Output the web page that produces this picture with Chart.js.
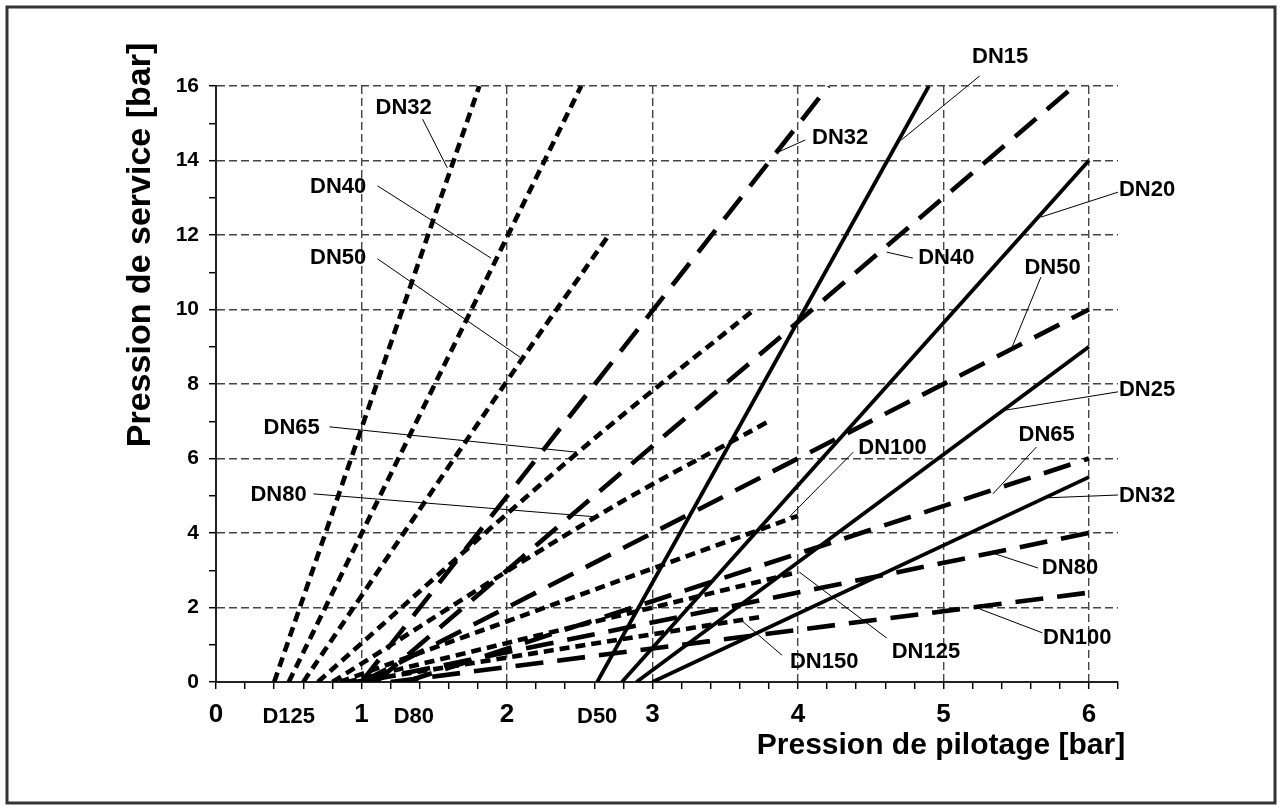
<!DOCTYPE html>
<html>
<head>
<meta charset="utf-8">
<script src="https://cdn.jsdelivr.net/npm/chart.js@4.4.1/dist/chart.umd.min.js"></script>
<style>
  html, body { margin: 0; padding: 0; background: #fff; }
  canvas { display: block; }
</style>
</head>
<body>
<canvas id="chart" width="1282" height="810"></canvas>
<script>
// pilot pressure (x) vs service pressure (y), bar
// solid family
const solidDN15 = [[2.62, 0], [4.90, 16]];
const solidDN20 = [[2.79, 0], [6.00, 14]];
const solidDN25 = [[2.89, 0], [6.00, 9]];
const solidDN32 = [[3.00, 0], [6.00, 5.5]];

// long dash family
const longDN32 = [[1.00, 0], [4.21, 16]];
const longDN40 = [[1.10, 0], [5.90, 16]];
const longDN50 = [[1.00, 0], [6.00, 10]];
const longDN65 = [[1.30, 0], [6.00, 6]];
const longDN80 = [[1.00, 0], [6.00, 4]];
const longDN100 = [[1.20, 0], [6.00, 2.4]];

// short dash family
const shortDN32 = [[0.40, 0], [1.81, 16]];
const shortDN40 = [[0.50, 0], [2.51, 16]];
const shortDN50 = [[0.60, 0], [2.00, 8.08], [2.70, 12]];
const shortDN65 = [[0.70, 0], [2.49, 6.17], [3.70, 10]];
const shortDN80 = [[0.80, 0], [2.61, 4.43], [3.80, 7]];
const shortDN100 = [[0.85, 0], [4.00, 4.46]];
const shortDN125 = [[0.90, 0], [4.00, 2.95]];
const shortDN150 = [[0.95, 0], [3.75, 1.75]];

// axis tick labels
const xTickValues = [0, 1, 2, 3, 4, 5, 6];
const yTickValues = [0, 2, 4, 6, 8, 10, 12, 14, 16];
const xExtraLabels = ['D125', 'D80', 'D50'];
const xExtraValues = [0.50, 1.36, 2.62];

const solid = { borderWidth: 3.8, borderDash: [] };
const longDash = { borderWidth: 4.6, borderDash: [28, 14] };
const shortDash = { borderWidth: 4.6, borderDash: [10, 6] };

const series = [
  ['DN15', solidDN15, solid], ['DN20', solidDN20, solid],
  ['DN25', solidDN25, solid], ['DN32', solidDN32, solid],
  ['DN32', longDN32, longDash], ['DN40', longDN40, longDash],
  ['DN50', longDN50, longDash], ['DN65', longDN65, longDash],
  ['DN80', longDN80, longDash], ['DN100', longDN100, longDash],
  ['DN32', shortDN32, shortDash], ['DN40', shortDN40, shortDash],
  ['DN50', shortDN50, shortDash], ['DN65', shortDN65, shortDash],
  ['DN80', shortDN80, shortDash], ['DN100', shortDN100, shortDash],
  ['DN125', shortDN125, shortDash], ['DN150', shortDN150, shortDash]
];

// callouts: text centre, leader start, leader end (data units)
const callouts = [
  ['DN32', [1.29, 15.41], [1.42, 15.11], [1.59, 13.80]],
  ['DN40', [0.84, 13.29], [1.11, 13.32], [1.89, 11.38]],
  ['DN50', [0.84, 11.38], [1.11, 11.36], [2.09, 8.72]],
  ['DN65', [0.52, 6.82], [0.78, 6.85], [2.48, 6.17]],
  ['DN80', [0.43, 5.02], [0.67, 5.05], [2.62, 4.43]],
  ['DN32', [4.29, 14.60], [4.05, 14.55], [3.85, 14.20]],
  ['DN15', [5.39, 16.78], [5.25, 16.27], [4.71, 14.55]],
  ['DN20', [6.40, 13.21], [6.20, 13.15], [5.67, 12.48]],
  ['DN40', [5.02, 11.38], [4.79, 11.38], [4.61, 11.54]],
  ['DN50', [5.75, 11.11], [5.67, 10.87], [5.47, 8.97]],
  ['DN25', [6.40, 7.84], [6.20, 7.79], [5.43, 7.30]],
  ['DN65', [5.71, 6.63], [5.64, 6.31], [5.34, 5.05]],
  ['DN32', [6.40, 4.99], [6.20, 5.02], [5.68, 4.94]],
  ['DN80', [5.87, 3.06], [5.65, 3.06], [5.34, 3.46]],
  ['DN100', [5.92, 1.18], [5.68, 1.32], [5.25, 1.96]],
  ['DN100', [4.65, 6.28], [4.38, 6.17], [3.94, 4.43]],
  ['DN125', [4.88, 0.81], [4.61, 1.18], [4.01, 2.95]],
  ['DN150', [4.18, 0.54], [3.89, 0.72], [3.61, 1.66]]
];

const FONT = '"Liberation Sans", Arial, sans-serif';

const isInt = v => Math.abs(v - Math.round(v)) < 1e-6;

const extras = {
  id: 'extras',
  afterDraw(chart) {
    const { ctx, scales: { x, y }, chartArea } = chart;
    ctx.save();
    // callout leaders
    ctx.strokeStyle = '#000';
    ctx.lineWidth = 1;
    ctx.setLineDash([]);
    callouts.forEach(c => {
      ctx.beginPath();
      ctx.moveTo(x.getPixelForValue(c[2][0]), y.getPixelForValue(c[2][1]));
      ctx.lineTo(x.getPixelForValue(c[3][0]), y.getPixelForValue(c[3][1]));
      ctx.stroke();
    });
    ctx.fillStyle = '#000';
    ctx.textAlign = 'center';
    ctx.textBaseline = 'middle';
    ctx.font = 'bold 22px ' + FONT;
    callouts.forEach(c => {
      ctx.fillText(c[0], x.getPixelForValue(c[1][0]), y.getPixelForValue(c[1][1]));
    });
    // extra x labels
    xExtraLabels.forEach((t, i) => {
      ctx.fillText(t, x.getPixelForValue(xExtraValues[i]), chartArea.bottom + 35);
    });
    // axis titles
    ctx.font = 'bold 30px ' + FONT;
    ctx.fillText('Pression de pilotage [bar]', 941, chartArea.bottom + 64);
    ctx.save();
    ctx.translate(141, 245);
    ctx.rotate(-Math.PI / 2);
    ctx.font = 'bold 34px ' + FONT;
    ctx.fillText('Pression de service [bar]', 0, 0);
    ctx.restore();
    // frame
    ctx.strokeStyle = '#333';
    ctx.lineWidth = 3;
    ctx.strokeRect(7, 7, 1268, 796);
    ctx.restore();
  }
};

new Chart(document.getElementById('chart'), {
  type: 'scatter',
  data: {
    datasets: series.map(s => ({
      label: s[0],
      data: s[1].map(p => ({ x: p[0], y: p[1] })),
      showLine: true,
      borderColor: '#000',
      backgroundColor: '#000',
      borderWidth: s[2].borderWidth,
      borderDash: s[2].borderDash,
      borderCapStyle: 'butt',
      pointRadius: 0,
      tension: s[1].length > 2 ? 0.4 : 0,
      fill: false
    }))
  },
  options: {
    responsive: false,
    animation: false,
    devicePixelRatio: 1,
    layout: { padding: { left: 0, top: 86, right: 164, bottom: 0 } },
    plugins: { legend: { display: false }, tooltip: { enabled: false } },
    scales: {
      x: {
        type: 'linear', min: 0, max: 6.2,
        afterFit: s => { s.height = 128; },
        ticks: {
          stepSize: 0.2, autoSkip: false, maxRotation: 0, padding: 10,
          color: '#000', font: { family: FONT, size: 26, weight: 'bold' },
          callback: v => (isInt(v) && xTickValues.includes(Math.round(v))) ? String(Math.round(v)) : ''
        },
        grid: {
          color: c => (c.tick && isInt(c.tick.value) && c.tick.value > 0 && c.tick.value < 6.1) ? '#444' : 'rgba(0,0,0,0)',
          lineWidth: 1.4, drawTicks: true, tickLength: 7, tickColor: '#000', tickWidth: 1.5
        },
        border: { display: true, color: '#222', width: 2, dash: [8, 4] }
      },
      y: {
        type: 'linear', min: 0, max: 16,
        afterFit: s => { s.width = 216; },
        ticks: {
          stepSize: 1, autoSkip: false, padding: 10,
          color: '#000', font: { family: FONT, size: 21, weight: 'bold' },
          callback: v => (isInt(v) && yTickValues.includes(Math.round(v))) ? String(Math.round(v)) : ''
        },
        grid: {
          color: c => (c.tick && isInt(c.tick.value) && Math.round(c.tick.value) % 2 === 0 && c.tick.value > 0) ? '#444' : 'rgba(0,0,0,0)',
          lineWidth: 1.4, drawTicks: true, tickLength: 7, tickColor: '#000', tickWidth: 1.5
        },
        border: { display: true, color: '#222', width: 2, dash: [8, 4] }
      }
    }
  },
  plugins: [extras]
});
</script>
</body>
</html>
